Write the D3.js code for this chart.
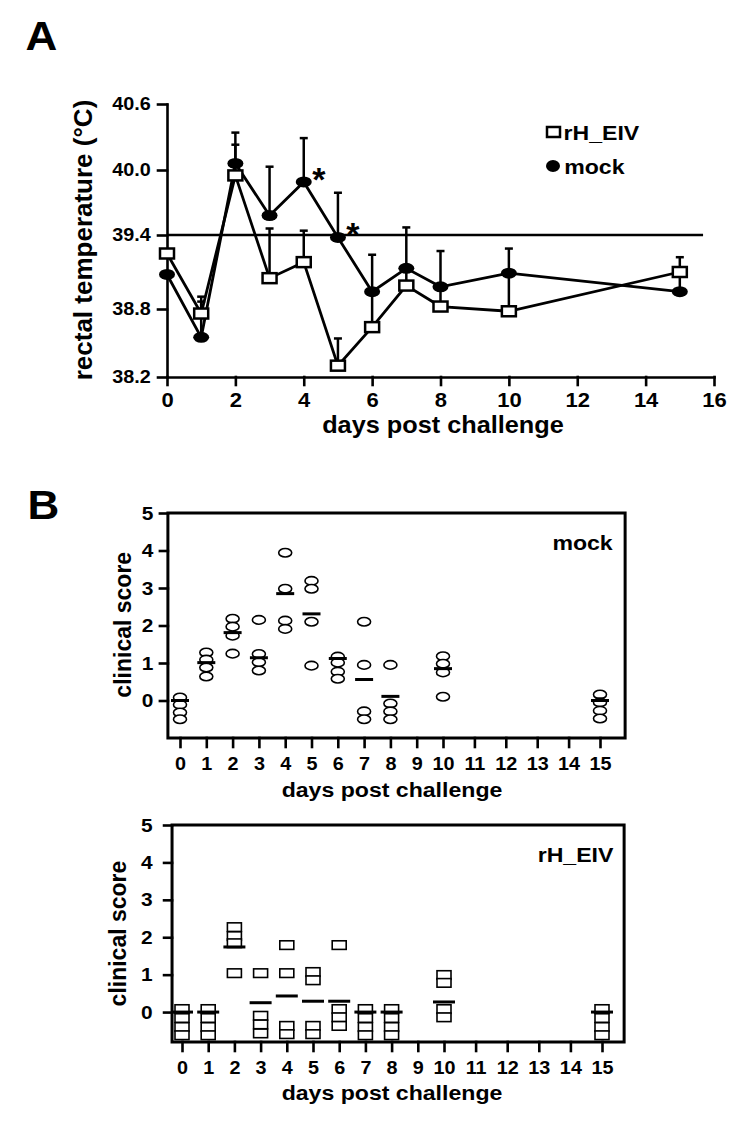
<!DOCTYPE html>
<html><head><meta charset="utf-8">
<script src="https://cdn.jsdelivr.net/npm/d3@7"></script>
<style>
body{margin:0;background:#fff}
svg text{font-family:"Liberation Sans",Arial,Helvetica,sans-serif;font-weight:bold;fill:#000}
.sx{transform-box:fill-box;transform-origin:center;transform:scaleX(1.1)}
</style></head><body>
<svg id="c" width="750" height="1121"></svg>
<script>
// ---------- Panel A data (rectal temperature, °C) ----------
const daysA      = [0, 1, 2, 3, 4, 5, 6, 7, 8, 10, 15];
const mockTemp   = [39.08, 38.55, 40.06, 39.58, 39.89, 39.38, 38.94, 39.13, 38.98, 39.09, 38.94];
const mockTempHi = [null, 38.86, 40.34, 40.03, 40.29, 39.79, 39.24, 39.47, 39.27, 39.29, 39.10];
const rhTemp     = [39.25, 38.76, 39.95, 39.05, 39.18, 38.30, 38.64, 38.99, 38.82, 38.78, 39.10];
const rhTempHi   = [null, 38.90, 40.23, 39.46, 39.44, 38.54, 38.93, 39.12, 38.97, 39.07, 39.22];
const tempTicks  = [38.2, 38.8, 39.4, 40.0, 40.6];
const dayTicksA  = [0, 2, 4, 6, 8, 10, 12, 14, 16];
const feverLine  = [39.4];
const feverEnd   = [15.68];
const sigDays    = [4, 5];
const legendLabels = ["rH_EIV", "mock"];

// ---------- Panel B data (clinical score) ----------
const daysB = [0, 1, 2, 3, 4, 5, 6, 7, 8, 10, 15];
const mockScores = [
  [0.08, -0.11, -0.32, -0.5],
  [1.28, 1.09, 0.88, 0.64],
  [2.18, 1.97, 1.73, 1.25],
  [2.15, 1.24, 1.02, 0.8],
  [3.94, 2.98, 2.13, 1.91],
  [3.19, 2.98, 2.1, 0.93],
  [1.17, 1.01, 0.77, 0.58],
  [2.1, 0.95, -0.29, -0.5],
  [0.95, -0.08, -0.29, -0.5],
  [1.18, 0.98, 0.75, 0.1],
  [0.16, -0.05, -0.27, -0.48]
];
const mockMeans = [0, 1.01, 1.81, 1.14, 2.85, 2.31, 1.12, 0.56, 0.11, 0.85, 0];
const rhScores = [
  [0.08, -0.16, -0.4, -0.62],
  [0.08, -0.16, -0.4, -0.62],
  [2.27, 2.03, 1.84, 1.04],
  [1.04, -0.1, -0.33, -0.57],
  [1.79, 1.04, -0.37, -0.59],
  [1.07, 0.85, -0.37, -0.59],
  [1.79, 0.08, -0.14, -0.37],
  [0.08, -0.16, -0.4, -0.62],
  [0.08, -0.16, -0.4, -0.62],
  [0.99, 0.78, 0.08, -0.14],
  [0.08, -0.16, -0.4, -0.62]
];
const rhMeans = [0, 0, 1.74, 0.25, 0.43, 0.29, 0.29, 0, 0, 0.27, 0];
const scoreTicks = [0, 1, 2, 3, 4, 5];
const dayTicksB = [0, 1, 2, 3, 4, 5, 6, 7, 8, 9, 10, 11, 12, 13, 14, 15];

const svg = d3.select("#c");
function styleAxis(g, w){
  g.selectAll("path,line").attr("stroke","#000").attr("stroke-width",w).attr("stroke-linecap","square");
}

// Panel letters
svg.append("text").attr("class","sx").attr("x",27).attr("y",50).attr("font-size",40).text("A");
svg.append("text").attr("class","sx").attr("x",29).attr("y",519).attr("font-size",40).text("B");

// ================= PANEL A =================
const xA = d3.scaleLinear().domain([0,16]).range([167,714]);
const yA = d3.scaleLinear().domain(tempTicks).range([377,309,235,170,104]);
const A = svg.append("g");

const axA = A.append("g").attr("transform",`translate(0,${yA(38.2)})`)
  .call(d3.axisBottom(xA).tickValues(dayTicksA).tickSize(8).tickSizeOuter(0));
axA.selectAll("text").attr("y",30).attr("dy",0).attr("font-size",20).attr("class","sx");
styleAxis(axA,2.6);
const ayA = A.append("g").attr("transform",`translate(${xA(0)},0)`)
  .call(d3.axisLeft(yA).tickValues(tempTicks).tickSize(9).tickPadding(9).tickSizeOuter(0).tickFormat(d3.format(".1f")));
ayA.selectAll("text").attr("font-size",18).attr("class","sx");
styleAxis(ayA,2.6);

A.append("text").attr("transform",`translate(92,240) rotate(-90)`).attr("text-anchor","middle")
  .attr("font-size",26).text("rectal temperature (°C)");
A.append("text").attr("class","sx").attr("x",443).attr("y",433).attr("text-anchor","middle")
  .attr("font-size",23).text("days post challenge");

// fever threshold
A.append("line").attr("x1",xA(0)).attr("x2",xA(feverEnd[0]))
  .attr("y1",yA(feverLine[0])).attr("y2",yA(feverLine[0])).attr("stroke","#000").attr("stroke-width",2.5);

const mockPts = daysA.map((d,i)=>({d, v:mockTemp[i], hi:mockTempHi[i]}));
const rhPts   = daysA.map((d,i)=>({d, v:rhTemp[i], hi:rhTempHi[i]}));

function errBars(pts){
  const g = A.append("g").attr("stroke","#000").attr("stroke-width",2.5);
  pts.filter(p=>p.hi!=null).forEach(p=>{
    g.append("line").attr("x1",xA(p.d)).attr("x2",xA(p.d)).attr("y1",yA(p.v)).attr("y2",yA(p.hi));
    g.append("line").attr("x1",xA(p.d)-4).attr("x2",xA(p.d)+4).attr("y1",yA(p.hi)).attr("y2",yA(p.hi));
  });
}
errBars(mockPts); errBars(rhPts);

const lineA = d3.line().x(p=>xA(p.d)).y(p=>yA(p.v));
A.append("path").datum(mockPts).attr("d",lineA).attr("fill","none").attr("stroke","#000").attr("stroke-width",2.8);
A.append("path").datum(rhPts).attr("d",lineA).attr("fill","none").attr("stroke","#000").attr("stroke-width",2.8);

A.selectAll(".mk").data(mockPts).join("ellipse").attr("cx",p=>xA(p.d)).attr("cy",p=>yA(p.v))
  .attr("rx",8).attr("ry",5.5).attr("fill","#000");
A.selectAll(".rk").data(rhPts).join("rect").attr("x",p=>xA(p.d)-7).attr("y",p=>yA(p.v)-5)
  .attr("width",14).attr("height",10).attr("fill","#fff").attr("stroke","#000").attr("stroke-width",2.5);

// significance asterisks
const mockByDay = new Map(mockPts.map(p=>[p.d,p.v]));
sigDays.forEach(d=>{
  A.append("text").attr("x",xA(d)+15).attr("y",yA(mockByDay.get(d))-10+19)
    .attr("text-anchor","middle").attr("font-size",34).text("*");
});

// legend
A.append("rect").attr("x",547).attr("y",127).attr("width",13).attr("height",10)
  .attr("fill","#fff").attr("stroke","#000").attr("stroke-width",2.5);
A.append("ellipse").attr("cx",553).attr("cy",166).attr("rx",7).attr("ry",6).attr("fill","#000");
A.append("text").attr("class","sx").attr("x",567).attr("y",140).attr("font-size",21).text(legendLabels[0]);
A.append("text").attr("class","sx").attr("x",567).attr("y",174).attr("font-size",21).text(legendLabels[1]);

// ================= PANEL B =================
function scorePanel(o){
  const x = d3.scaleLinear().domain([0,10,15]).range(o.xr);
  const y = d3.scaleLinear().domain(o.yDom).range([o.bottom,o.top]);
  const g = svg.append("g");
  const x0 = x(o.xLim[0]), x1 = x(o.xLim[1]);
  const yb = y(o.yDom[0]), yt = y(5);

  const ay = g.append("g").attr("transform",`translate(${x0},0)`)
    .call(d3.axisLeft(y).tickValues(scoreTicks).tickSize(8).tickPadding(o.yPad).tickSizeOuter(0).tickFormat(d3.format("d")));
  ay.select(".domain").remove();
  ay.selectAll("text").attr("font-size",19).attr("class","sx");
  styleAxis(ay,2.6);
  const ax = g.append("g").attr("transform",`translate(0,${yb})`)
    .call(d3.axisBottom(x).tickValues(dayTicksB).tickSize(9).tickSizeOuter(0).tickFormat(d3.format("d")));
  ax.select(".domain").remove();
  ax.selectAll("text").attr("y",32).attr("dy",0).attr("font-size",18).attr("class","sx");
  styleAxis(ax,2.6);

  g.append("rect").attr("x",x0).attr("y",yt).attr("width",x1-x0).attr("height",yb-yt)
    .attr("fill","none").attr("stroke","#000").attr("stroke-width",3);

  const pts = [];
  daysB.forEach((d,i)=>o.scores[i].forEach(v=>pts.push({d,v})));
  if(o.shape==="circle"){
    g.selectAll(".p").data(pts).join("ellipse").attr("cx",p=>x(p.d)).attr("cy",p=>y(p.v))
      .attr("rx",6.5).attr("ry",4.3).attr("fill","#fff").attr("stroke","#000").attr("stroke-width",1.6);
  } else {
    g.selectAll(".p").data(pts).join("rect").attr("x",p=>x(p.d)-7).attr("y",p=>y(p.v)-4.3)
      .attr("width",14).attr("height",8.6).attr("fill","#fff").attr("stroke","#000").attr("stroke-width",1.6);
  }
  g.selectAll(".m").data(daysB.map((d,i)=>({d,v:o.means[i]}))).join("line")
    .attr("x1",p=>x(p.d)-o.meanHalf).attr("x2",p=>x(p.d)+o.meanHalf)
    .attr("y1",p=>y(p.v)).attr("y2",p=>y(p.v)).attr("stroke","#000").attr("stroke-width",3);

  g.append("text").attr("class","sx").attr("x",610).attr("y",o.labelY).attr("text-anchor","end")
    .attr("font-size",21).text(o.label);
  g.append("text").attr("transform",`translate(${o.ytX},${(yt+y(0))/2+ (o.ytShift||0)}) rotate(-90)`)
    .attr("text-anchor","middle").attr("font-size",23).text("clinical score");
  g.append("text").attr("class","sx").attr("x",392).attr("y",yb+o.titleOff).attr("text-anchor","middle")
    .attr("font-size",21).text("days post challenge");
}

scorePanel({xr:[180,443,600], xLim:[-0.46,15.8], yDom:[-1,5], top:513, bottom:738, yPad:7,
  scores:mockScores, means:mockMeans, shape:"circle", meanHalf:9, label:"mock", labelY:550,
  ytX:131, ytShift:18, titleOff:59});
scorePanel({xr:[182,444,602], xLim:[-0.38,15.7], yDom:[-0.8,5], top:825, bottom:1042, yPad:12,
  scores:rhScores, means:rhMeans, shape:"rect", meanHalf:11, label:"rH_EIV", labelY:862,
  ytX:126, ytShift:15, titleOff:58});
</script>
</body></html>
